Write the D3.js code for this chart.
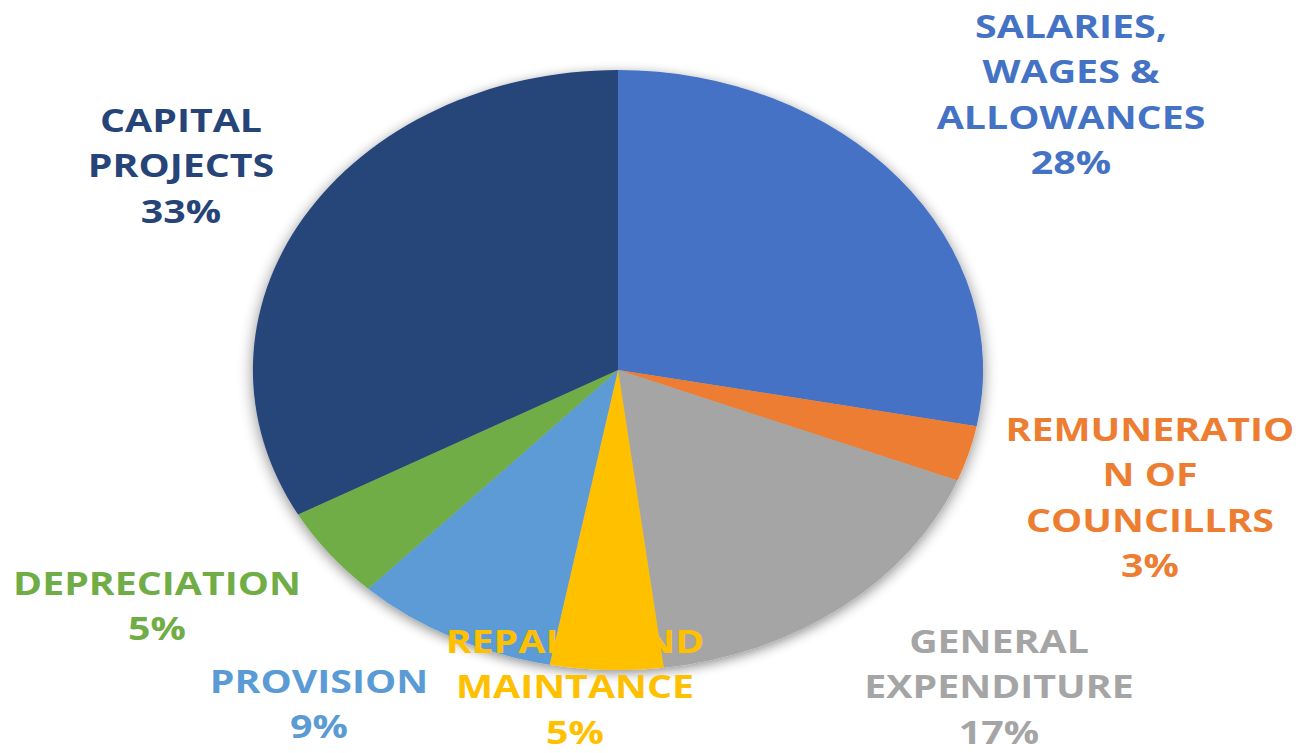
<!DOCTYPE html>
<html>
<head>
<meta charset="utf-8">
<script src="https://cdn.jsdelivr.net/npm/d3@7"></script>
<style>
  html, body { margin: 0; padding: 0; background: #ffffff; }
  svg { display: block; }
</style>
</head>
<body>
<svg id="chart" width="1304" height="753"></svg>
<script>
// Expenditure shares, clockwise from 12 o'clock
const categories = [
  "SALARIES, WAGES & ALLOWANCES",
  "REMUNERATION OF COUNCILLRS",
  "GENERAL EXPENDITURE",
  "REPAIRS AND MAINTANCE",
  "PROVISION",
  "DEPRECIATION",
  "CAPITAL PROJECTS"
];
const shares = [28, 3, 17, 5, 9, 5, 33];
const colors = ["#4472C4", "#ED7D31", "#A5A5A5", "#FFC000", "#5B9BD5", "#70AD47", "#264478"];

// Label lines as they wrap in the chart
const labelLines = [
  ["SALARIES,", "WAGES &", "ALLOWANCES"],
  ["REMUNERATIO", "N OF", "COUNCILLRS"],
  ["GENERAL", "EXPENDITURE"],
  ["REPAIRS AND", "MAINTANCE"],
  ["PROVISION"],
  ["DEPRECIATION"],
  ["CAPITAL", "PROJECTS"]
];

// Label anchor: centre x and baseline of the first line
const labelAnchors = [
  [1071, 38], [1150, 441], [999, 653], [575, 653],
  [319, 693], [157, 595], [181, 132]
];

const W = 1304, H = 753;
const cx = 618, cy = 370, r = 300;
const sx = 1.217;          // horizontal stretch of the whole drawing
const lineStep = 45.5;

const svg = d3.select("#chart");

const defs = svg.append("defs");
const shadow = defs.append("filter").attr("id", "pieShadow")
  .attr("x", "-20%").attr("y", "-20%").attr("width", "140%").attr("height", "140%");
shadow.append("feGaussianBlur").attr("in", "SourceAlpha").attr("stdDeviation", 6).attr("result", "blur");
shadow.append("feOffset").attr("in", "blur").attr("dx", 0).attr("dy", 3).attr("result", "off");
shadow.append("feComponentTransfer").attr("in", "off").attr("result", "soft")
  .append("feFuncA").attr("type", "linear").attr("slope", 0.45);
const merge = shadow.append("feMerge");
merge.append("feMergeNode").attr("in", "soft");
merge.append("feMergeNode").attr("in", "SourceGraphic");

const data = categories.map((c, i) => ({ name: c, value: shares[i], color: colors[i], i }));

const pie = d3.pie().sort(null).value(d => d.value).startAngle(0).endAngle(2 * Math.PI);
const arc = d3.arc().innerRadius(0).outerRadius(r);

const pieG = svg.append("g")
  .attr("transform", `translate(${cx},${cy}) scale(${sx},1)`)
  .attr("filter", "url(#pieShadow)");

pieG.selectAll("path.slice")
  .data(pie(data))
  .join("path")
  .attr("class", "slice")
  .attr("d", arc)
  .attr("fill", d => d.data.color);

// Data labels: category lines followed by the percentage
const labels = svg.append("g").attr("class", "labels");
data.forEach((d, i) => {
  const [lx, ly] = labelAnchors[i];
  const lines = labelLines[i].concat([d.value + "%"]);
  const g = labels.append("g")
    .attr("transform", `translate(${lx},${ly}) scale(${sx},1)`);
  g.selectAll("text")
    .data(lines)
    .join("text")
    .attr("x", 0)
    .attr("y", (t, k) => k * lineStep)
    .attr("text-anchor", "middle")
    .attr("font-family", "'Open Sans', 'DejaVu Sans', sans-serif")
    .attr("font-weight", 700)
    .attr("font-size", 32.3)
    .attr("fill", d.color)
    .text(t => t);
});
</script>
</body>
</html>
